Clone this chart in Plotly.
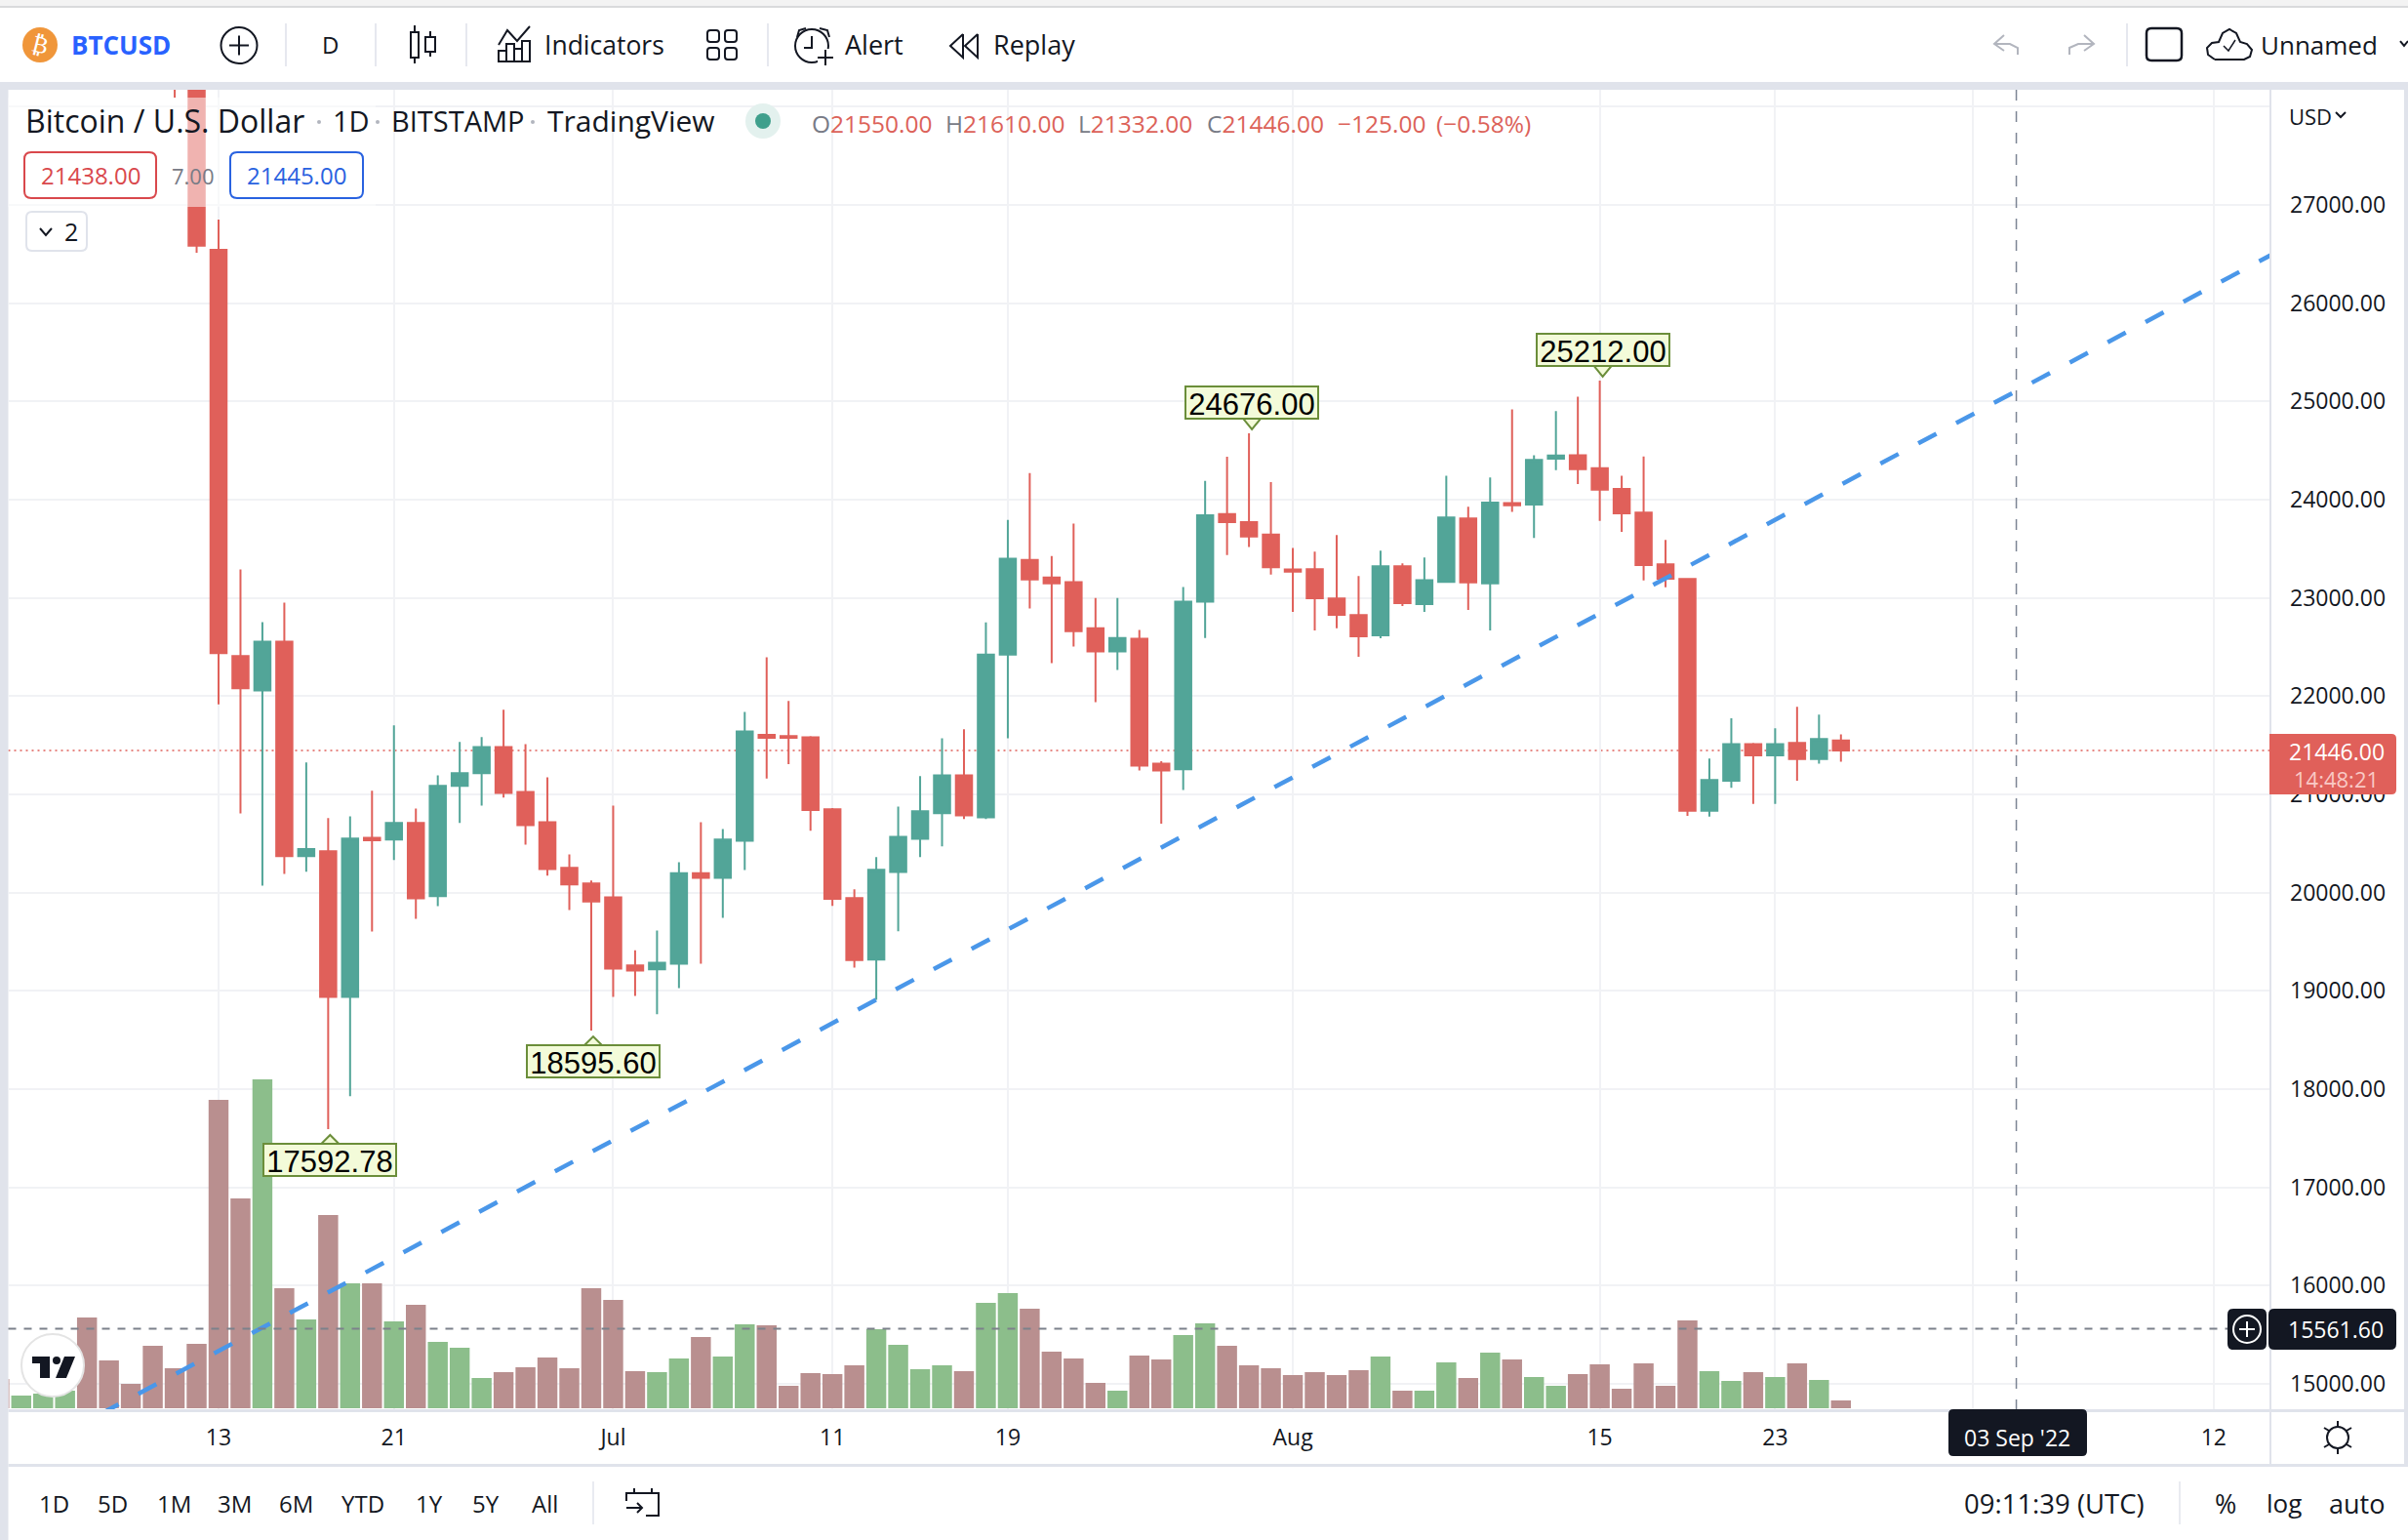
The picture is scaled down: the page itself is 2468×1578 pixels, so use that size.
#!/usr/bin/env python3

import pandas as pd
import plotly.graph_objects as go

WIDTH = 2468
HEIGHT = 1578

RED = '#E0605A'
TEAL = '#52A598'
RED_VOL = '#B98F8F'
GREEN_VOL = '#8CBE8B'
DARK = '#131722'
GRAY = '#787B86'
BAND = '#E0E3EB'
GRID = '#F1F2F5'
FONT = 'Open Sans'

dates = pd.date_range('2022-06-03', '2022-08-26', freq='D')

opens = [
    30450, 29680, 29850, 29900, 31370, 31130, 30200, 30100, 29080, 28400,
    26543, 22408, 22058, 22554, 20372, 20421, 18940, 20559, 20541, 20709,
    19964, 21086, 21215, 21481, 21024, 20718, 20253, 20093,
    19951, 19259, 19219, 19277, 20199, 20151, 20528, 21605, 21593, 21581,
    20849, 19944, 19319, 20211, 20548, 20808, 21194, 20766, 22424, 23386,
    23209, 23160, 22691, 22456, 22584, 21313, 21256, 22962, 23854, 23772, 23645,
    23289, 23293, 22993, 22826, 22620, 23321, 22937, 23164, 23808, 23147,
    23965, 23951, 24418, 24453, 24321, 24108, 23868, 23342, 23192, 20833,
    21140, 21512, 21398, 21523, 21359, 21550,
]
highs = [
    30680, 29950, 30150, 31750, 31550, 31320, 30650, 30350, 29440, 28550,
    26851, 23290, 22754, 22953, 21326, 20758, 20776, 21038, 21703, 20856,
    21193, 21534, 21583, 21863, 21512, 21175, 20390, 20124,
    20887, 19414, 19614, 20310, 20718, 20647, 21840, 22395, 21951, 21593,
    20860, 20035, 20363, 20877, 21186, 21572, 21663, 22752, 23793, 24270,
    23427, 23756, 22999, 22999, 22674, 21338, 23110, 24192, 24438, 24676, 24179,
    23509, 23470, 23641, 23223, 23481, 23352, 23411, 24244, 23927, 24227,
    24920, 24453, 24902, 25049, 25212, 24244, 24439, 23589, 23202, 21366,
    21774, 21523, 21673, 21892, 21812, 21610,
]
lows = [
    29350, 29500, 29510, 29880, 29220, 29850, 29950, 28860, 28093, 26513,
    21916, 20807, 20071, 20190, 20213, 17592.78, 17929, 19605, 20332, 19734,
    19862, 20709, 20887, 20967, 20488, 20173, 19822, 18595.60,
    18940, 18949, 18762, 19029, 19277, 19743, 20230, 21161, 21309, 20631,
    19866, 19237, 18908, 19607, 20363, 20470, 20750, 20750, 21572, 22892,
    22337, 22506, 21938, 22267, 21243, 20701, 21046, 22592, 23435, 23517, 23238,
    22857, 22669, 22690, 22401, 22589, 22917, 22857, 23164, 22878, 22669,
    23875, 23610, 24300, 24160, 23784, 23673, 23178, 23108, 20781, 20774,
    21067, 20903, 20903, 21140, 21314, 21332,
]
closes = [
    29680, 29850, 29900, 31370, 31130, 30200, 30100, 29080, 28400, 26586,
    22439, 22080, 22554, 20372, 20443, 18940, 20550, 20532, 20709, 19942,
    21086, 21215, 21481, 21015, 20687, 20239, 20084, 19911,
    19228, 19206, 19286, 20199, 20151, 20541, 21641, 21576, 21576, 20840,
    19936, 19315, 20232, 20569, 20828, 21194, 20787, 22424, 23398, 23188,
    23147, 22662, 22456, 22592, 21293, 21243, 22962, 23842, 23772, 23624, 23312,
    23268, 22997, 22829, 22610, 23321, 22948, 23181, 23819, 23157, 23969,
    23944, 24404, 24450, 24310, 24101, 23861, 23335, 23195, 20833, 21147,
    21512, 21398, 21512, 21359, 21565, 21446,
]
volumes = [
    30, 13, 15, 18, 93, 49, 25, 64, 41, 66,
    316, 215, 337, 123, 91, 198, 128, 128, 89, 106,
    68, 62, 31, 37, 42, 52, 41, 123,
    111, 38, 37, 51, 73, 53, 86, 85, 23, 36,
    35, 44, 81, 65, 40, 44, 38, 108, 118, 102,
    58, 51, 26, 18, 54, 50, 75, 87, 64, 44, 41,
    34, 37, 34, 39, 53, 18, 18, 47, 31, 57,
    50, 32, 23, 35, 45, 20, 46, 23, 90, 38,
    28, 37, 32, 46, 29, 8,
]

price_ticks = [15000, 16000, 17000, 18000, 19000, 20000, 21000, 22000, 23000, 24000, 25000, 26000, 27000, 28000]
price_labels = ['15000.00', '16000.00', '17000.00', '18000.00', '19000.00', '20000.00', '21000.00',
                '22000.00', '23000.00', '24000.00', '25000.00', '26000.00', '27000.00', '']
time_ticks = ['2022-06-13', '2022-06-21', '2022-07-01', '2022-07-11', '2022-07-19',
              '2022-08-01', '2022-08-15', '2022-08-23', '2022-09-01', '2022-09-12']
# Sep sits behind the crosshair date tag in the picture
time_labels = ['13', '21', 'Jul', '11', '19', 'Aug', '15', '23', '', '12']

trend_dates = ['2022-06-07 14:45', '2022-09-15']
trend_prices = [14693, 26536]

last_price = 21446
cross_price = 15561.60
cross_date = '2022-09-03'

# (date, price) of the high / low flags
low_flags = [('2022-06-18', 17592.78), ('2022-06-30', 18595.60)]
high_flags = [('2022-07-30', 24676.00), ('2022-08-15', 25212.00)]

range_buttons = [('1D', 55), ('5D', 115), ('1M', 178), ('3M', 240), ('6M', 303),
                 ('YTD', 372), ('1Y', 440), ('5Y', 498), ('All', 558)]


def fx(x):
    return x / WIDTH


def fy(y):
    return 1 - y / HEIGHT


shapes = []
notes = []


def rect(x0, y0, x1, y1, fill=None, line=None, lw=0, opacity=1):
    shapes.append(dict(type='rect', xref='paper', yref='paper', x0=fx(x0), x1=fx(x1), y0=fy(y0), y1=fy(y1),
                       fillcolor=fill or 'rgba(0,0,0,0)', opacity=opacity,
                       line=dict(color=line or 'rgba(0,0,0,0)', width=lw)))


def circle(cx, cy, r, fill=None, line=None, lw=0):
    shapes.append(dict(type='circle', xref='paper', yref='paper', x0=fx(cx - r), x1=fx(cx + r), y0=fy(cy - r), y1=fy(cy + r),
                       fillcolor=fill or 'rgba(0,0,0,0)', line=dict(color=line or 'rgba(0,0,0,0)', width=lw)))


def poly(points, line=DARK, lw=2, fill=None, close=False):
    path = 'M' + ' L'.join(f'{fx(x):.5f},{fy(y):.5f}' for x, y in points) + (' Z' if close else '')
    shapes.append(dict(type='path', xref='paper', yref='paper', path=path,
                       fillcolor=fill or 'rgba(0,0,0,0)', line=dict(color=line or 'rgba(0,0,0,0)', width=lw)))


def round_rect(x0, y0, x1, y1, r, fill=None, line=DARK, lw=2):
    def p(x, y):
        return f'{fx(x):.5f},{fy(y):.5f}'
    path = (f'M{p(x0 + r, y0)} L{p(x1 - r, y0)} Q{p(x1, y0)} {p(x1, y0 + r)} L{p(x1, y1 - r)} Q{p(x1, y1)} {p(x1 - r, y1)} '
            f'L{p(x0 + r, y1)} Q{p(x0, y1)} {p(x0, y1 - r)} L{p(x0, y0 + r)} Q{p(x0, y0)} {p(x0 + r, y0)} Z')
    shapes.append(dict(type='path', xref='paper', yref='paper', path=path,
                       fillcolor=fill or 'rgba(0,0,0,0)', line=dict(color=line or 'rgba(0,0,0,0)', width=lw)))


def text(x, y, label, size=24, color=DARK, anchor='left', family=FONT, angle=0):
    notes.append(dict(xref='paper', yref='paper', x=fx(x), y=fy(y), text=label, showarrow=False,
                      xanchor=anchor, yanchor='middle', textangle=angle,
                      font=dict(family=family, size=size, color=color)))


# page frame
rect(0, 0, WIDTH, 7, fill='#F3F3F3')
rect(0, 6, WIDTH, 8, fill='#D9DADC')
rect(0, 84, WIDTH, 92, fill=BAND)
rect(0, 84, 8.5, HEIGHT, fill=BAND)
rect(2464, 84, WIDTH, 1503, fill=BAND)
rect(8.5, 1444, 2327, 1447, fill=BAND)
rect(2327, 1444, 2464, 1447, fill=BAND)
rect(2326, 92, 2328, 1500, fill=BAND)
rect(8.5, 1500, WIDTH, 1503, fill=BAND)

# faded legend backdrop over the candles
rect(8.5, 100, 385, 212, fill='#FFFFFF', opacity=0.52)

# top toolbar
circle(41, 46, 18, fill='#F0963A')
text(41, 46, '₿', size=24, color='#FFFFFF', anchor='center', family='DejaVu Sans', angle=14)
text(71, 46, '<b>BTCUSD</b>', size=26, color='#2962FF')
circle(245, 46.5, 18.5, line=DARK, lw=2)
poly([(235, 46.5), (255, 46.5)])
poly([(245, 36.5), (245, 56.5)])
for sep in [293, 385, 478, 787, 2180]:
    rect(sep - 0.8, 24, sep + 0.8, 68, fill=BAND)
text(338.5, 46, 'D', size=24, anchor='center')
poly([(425, 26), (425, 65)])
rect(421, 33, 429, 59, fill='#FFFFFF', line=DARK, lw=2)
poly([(441, 32), (441, 58)])
rect(436, 38, 446, 53, fill='#FFFFFF', line=DARK, lw=2)
poly([(511, 46), (520, 31), (530, 42), (543, 27)])
rect(511, 52, 519, 63, line=DARK, lw=2)
rect(519, 45, 527, 63, line=DARK, lw=2)
rect(527, 50, 535, 63, line=DARK, lw=2)
rect(535, 42, 543, 63, line=DARK, lw=2)
text(556, 46, 'Indicators', size=26.5)
for x0, y0 in [(725, 31), (743, 31), (725, 49), (743, 49)]:
    round_rect(x0, y0, x0 + 12, y0 + 12, 3)
circle(832, 47, 17, line=DARK, lw=2)
poly([(832, 37), (832, 49), (824, 49)])
poly([(817, 38), (819, 31), (826, 29)])
poly([(840, 29), (848, 31), (850, 38)])
rect(838, 50, 858, 68, fill='#FFFFFF')
poly([(846, 51), (846, 67)])
poly([(838, 59), (854, 59)])
text(864, 46, 'Alert', size=27)
poly([(987, 35), (974, 47), (987, 59), (987, 35)])
poly([(1002, 35), (989, 47), (1002, 59), (1002, 35)])
text(1016, 46, 'Replay', size=27)
poly([(2054, 36), (2044, 45), (2054, 52)], line='#B2B5BE')
poly([(2044, 45), (2060, 45), (2068, 49), (2068, 56)], line='#B2B5BE')
poly([(2136, 36), (2146, 45), (2136, 52)], line='#B2B5BE')
poly([(2146, 45), (2130, 45), (2121, 49), (2121, 56)], line='#B2B5BE')
round_rect(2200, 29, 2236, 62, 5, lw=2.5)
poly([(2270, 61), (2263, 56), (2262, 49), (2267, 44), (2274, 43), (2278, 34), (2285, 30), (2292, 34),
      (2296, 43), (2303, 45), (2308, 51), (2306, 58), (2300, 61), (2270, 61)])
poly([(2279, 47), (2284, 52), (2291, 41)], lw=1.5)
text(2315, 46, 'Unnamed', size=26)
poly([(2460, 42), (2464, 47), (2468, 42)])

# legend rows
text(24, 124, 'Bitcoin / U.S. Dollar', size=32)
text(339, 124, '1D', size=29)
text(399, 124, 'BITSTAMP', size=29)
text(559, 124, 'TradingView', size=30)
for x in [327, 387, 546]:
    circle(x, 125, 2, fill='#B2B5BE')
circle(782, 124, 18, fill='#E3F1EE')
circle(782, 124, 8, fill='#3F9F8C')
for x, letter, value in [(830, 'O', '21550.00'), (967, 'H', '21610.00'), (1103, 'L', '21332.00'), (1235, 'C', '21446.00')]:
    text(x, 126, f'<span style="color:{GRAY}">{letter}</span>{value}', size=24.5, color='#DC6259')
text(1369, 126, '−125.00', size=24.5, color='#DC6259')
text(1470, 126, '(−0.58%)', size=24.5, color='#DC6259')

round_rect(25, 156, 160, 203, 7, fill='#FFFFFF', line='#D9484C', lw=2)
text(92.5, 180, '21438.00', size=24, color='#D9484C', anchor='center')
text(198, 180, '7.00', size=22, color=GRAY, anchor='center')
round_rect(236, 156, 372, 203, 7, fill='#FFFFFF', line='#2962E0', lw=2)
text(304, 180, '21445.00', size=24, color='#2962E0', anchor='center')
round_rect(27, 217, 89, 257, 6, fill='#FFFFFF', line=BAND, lw=2)
poly([(41, 234), (47, 241), (53, 234)])
text(73, 237, '2', size=25, anchor='center')

# price scale header and last price tag
text(2344, 119, 'USD', size=22)
poly([(2394, 115), (2399, 120), (2404, 115)])
round_rect(2326, 752, 2456, 814, 5, fill=RED, line=None, lw=0)
rect(2326, 752, 2336, 814, fill=RED)
text(2394.5, 770, '21446.00', size=23, color='#FFFFFF', anchor='center')
text(2394.5, 798, '14:48:21', size=22, color='#F9C9C5', anchor='center')

# crosshair tags
round_rect(2283, 1341, 2323, 1383, 6, fill=DARK, line=None, lw=0)
circle(2303, 1362, 14, line='#FFFFFF', lw=2)
poly([(2295, 1362), (2311, 1362)], line='#FFFFFF')
poly([(2303, 1354), (2303, 1370)], line='#FFFFFF')
round_rect(2325, 1341, 2456, 1383, 6, fill=DARK, line=None, lw=0)
text(2394, 1362, '15561.60', size=23, color='#FFFFFF', anchor='center')
round_rect(1997, 1444, 2139, 1492, 5, fill=DARK, line=None, lw=0)
text(2067, 1473, "03 Sep '22", size=23, color='#FFFFFF', anchor='center')

# settings gear
circle(2396, 1473, 11, line=DARK, lw=2)
poly([(2396, 1456), (2396, 1462)])
poly([(2396, 1484), (2396, 1490)])
poly([(2382, 1463), (2387, 1466)])
poly([(2405, 1480), (2410, 1483)])
poly([(2382, 1483), (2387, 1480)])
poly([(2405, 1466), (2410, 1463)])

# TradingView badge
circle(54, 1399, 32, fill='#FFFFFF', line='#E4E4E4', lw=2)
poly([(33, 1390), (51, 1390), (51, 1412), (41, 1412), (41, 1397), (33, 1397)], line=None, lw=0, fill='#131722', close=True)
circle(58, 1394, 4, fill='#131722')
poly([(66, 1390), (77, 1390), (68, 1412), (57, 1412)], line=None, lw=0, fill='#131722', close=True)

# bottom bar
for label, x in range_buttons:
    text(x, 1540, label, size=24, anchor='center')
rect(607.3, 1518, 608.7, 1562, fill=BAND)
poly([(650, 1525), (650, 1530), (675, 1530), (675, 1553), (662, 1553)])
poly([(668, 1525), (668, 1530)])
poly([(650, 1530), (642, 1530), (642, 1538)], lw=2)
poly([(642, 1545), (658, 1545)])
poly([(653, 1540), (658, 1545), (653, 1550)])
text(2105, 1540, '09:11:39 (UTC)', size=27.5, anchor='center')
rect(2233.3, 1518, 2234.7, 1562, fill=BAND)
text(2281, 1540, '%', size=27, anchor='center')
text(2341, 1540, 'log', size=26, anchor='center')
text(2415, 1540, 'auto', size=27, anchor='center')

# lines tied to the axes
shapes.append(dict(type='line', layer='below', xref='paper', yref='y2', x0=fx(8.5), x1=fx(2327), y0=last_price, y1=last_price,
                   line=dict(color=RED, width=1.5, dash='2px,4px')))
shapes.append(dict(type='line', xref='paper', yref='y2', x0=fx(8.5), x1=fx(2283), y0=cross_price, y1=cross_price,
                   line=dict(color='#7C818B', width=2, dash='8px,8px')))
shapes.append(dict(type='line', xref='x', yref='paper', x0=cross_date, x1=cross_date, y0=fy(92), y1=fy(1444),
                   line=dict(color='#7C8594', width=1.5, dash='11px,11px')))

# high / low flags
for day, price in low_flags:
    notes.append(dict(x=day, y=price, xref='x', yref='y2', text=f'{price:.2f}', showarrow=False,
                      xanchor='center', yanchor='top', xshift=2, yshift=-14, width=134, height=31, valign='top',
                      bgcolor='#F3FBD9', bordercolor='#6B8E3A', borderwidth=2, borderpad=0,
                      font=dict(family='Liberation Sans', size=31, color='#000000')))
    shapes.append(dict(type='path', xref='x', yref='y2', xsizemode='pixel', ysizemode='pixel', xanchor=day, yanchor=price,
                       path='M-7,-15 L2,-6 L11,-15 Z', fillcolor='#F3FBD9', line=dict(color='#6B8E3A', width=2)))
for day, price in high_flags:
    notes.append(dict(x=day, y=price, xref='x', yref='y2', text=f'{price:.2f}', showarrow=False,
                      xanchor='center', yanchor='bottom', xshift=3, yshift=14, width=134, height=31, valign='top',
                      bgcolor='#F3FBD9', bordercolor='#6B8E3A', borderwidth=2, borderpad=0,
                      font=dict(family='Liberation Sans', size=31, color='#000000')))
    shapes.append(dict(type='path', xref='x', yref='y2', xsizemode='pixel', ysizemode='pixel', xanchor=day, yanchor=price,
                       path='M-6,15 L3,4 L12,15 Z', fillcolor='#F3FBD9', line=dict(color='#6B8E3A', width=2)))

vol_colors = [GREEN_VOL if c >= o else RED_VOL for o, c in zip(opens, closes)]

fig = go.Figure()
fig.add_trace(go.Bar(x=dates, y=volumes, marker=dict(color=vol_colors, line=dict(width=0)), yaxis='y', hoverinfo='skip'))
fig.add_trace(go.Candlestick(x=dates, open=opens, high=highs, low=lows, close=closes, yaxis='y2', hoverinfo='skip',
                             whiskerwidth=0,
                             increasing=dict(line=dict(color=TEAL, width=2), fillcolor=TEAL),
                             decreasing=dict(line=dict(color=RED, width=2), fillcolor=RED)))
fig.add_trace(go.Scatter(x=trend_dates, y=trend_prices, yaxis='y2', mode='lines', hoverinfo='skip',
                         line=dict(color='#4A97E9', width=4.5, dash='21px,23px')))

fig.update_layout(
    width=WIDTH, height=HEIGHT,
    margin=dict(l=0, r=0, t=0, b=0),
    paper_bgcolor='#FFFFFF', plot_bgcolor='#FFFFFF',
    showlegend=False,
    bargap=0.09, boxgap=0.265, boxgroupgap=0,
    xaxis=dict(domain=[fx(8.5), fx(2327)], type='date', range=['2022-06-03 09:50', '2022-09-14 14:10'],
               rangeslider=dict(visible=False), tickmode='array', tickvals=time_ticks, ticktext=time_labels,
               showgrid=True, gridcolor=GRID, gridwidth=1.5, zeroline=False, showline=False, ticks='',
               ticklabelstandoff=13, tickfont=dict(family=FONT, size=23, color=DARK)),
    yaxis=dict(domain=[fy(1444), fy(92)], range=[-1, 1351], visible=False, showgrid=False),
    yaxis2=dict(domain=[fy(1444), fy(92)], overlaying='y', side='right', anchor='x', range=[14742, 28172],
                tickmode='array', tickvals=price_ticks, ticktext=price_labels,
                showgrid=True, gridcolor=GRID, gridwidth=2, zeroline=False, showline=False, ticks='',
                ticklabelstandoff=19, tickfont=dict(family=FONT, size=23, color=DARK)),
    shapes=shapes,
    annotations=notes,
)

fig.write_html("out.html", config={'displayModeBar': False}, post_script="document.body.style.margin='0';")
